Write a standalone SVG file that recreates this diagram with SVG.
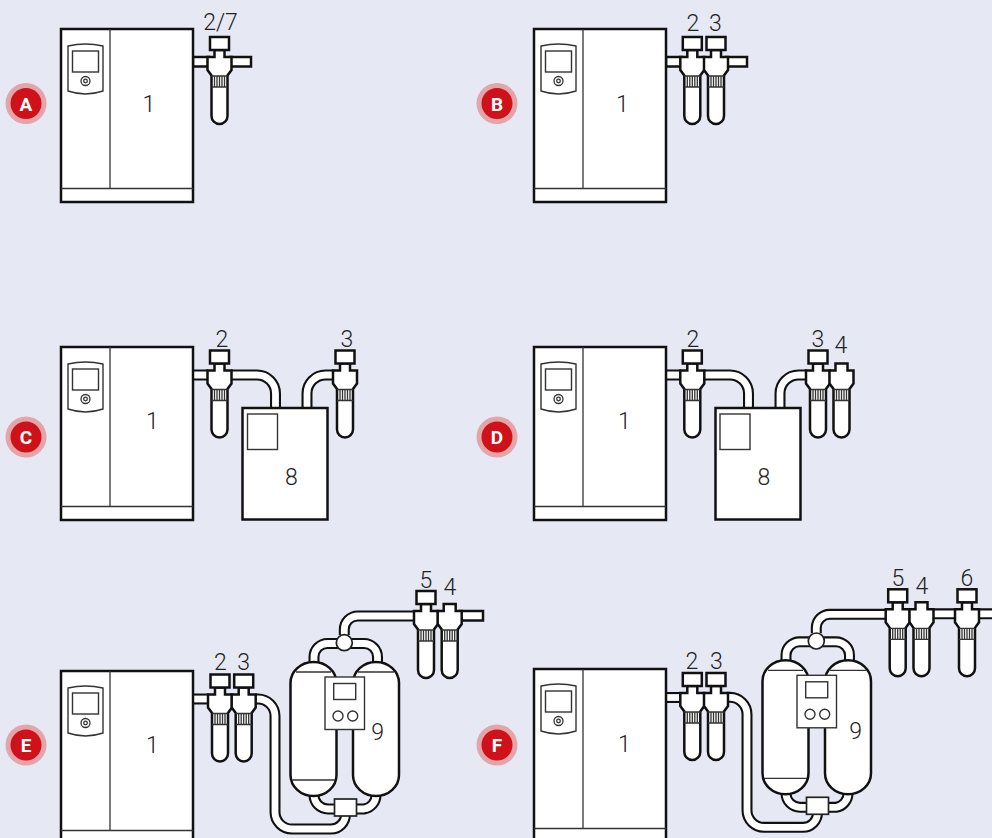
<svg xmlns="http://www.w3.org/2000/svg" width="992" height="838" viewBox="0 0 992 838">
<style>
.k{fill:#fff;stroke:#111;stroke-width:2.5}
.k2{fill:#fff;stroke:#222;stroke-width:1.7}
.t{fill:none;stroke:#333;stroke-width:1.3}
.w{fill:#fff;stroke:#333;stroke-width:1.4}
.po{fill:none;stroke:#111;stroke-width:11}
.pi{fill:none;stroke:#fff;stroke-width:6.800}
.l{font-family:Roboto,"Liberation Sans",sans-serif;font-weight:300;font-size:23px;fill:#222;text-anchor:middle;dominant-baseline:central}
.bo{fill:#e3a4aa}
.bi{fill:#cf111a}
.bt{font-family:Roboto,"Liberation Sans",sans-serif;font-weight:700;font-size:19px;fill:#fff;text-anchor:middle;dominant-baseline:central}
</style>
<defs>
<g id="cm">
<rect class="k" x="61" y="0" width="132" height="173"/>
<path class="t" d="M110,0V159M61,159.500H193"/>
<path class="w" d="M68,17Q85.500,13 103,17V62Q85.500,68 68,62Z"/>
<rect class="w" x="72.500" y="22" width="26" height="21"/>
<circle class="t" cx="85.500" cy="52" r="4.500"/><circle class="t" cx="85.500" cy="52" r="1.800"/>
</g>
<g id="body">
<path class="k" d="M-5,13V20H-12V33L-8,38.500V79A8,8 0 0 0 8,79V38.500L12,33V20H5V13Z"/>
<path class="t" d="M-8,39H8M-8,50H8M-5,39V50M-2.500,39V50M0,39V50M2.500,39V50M5,39V50"/>
</g>
<g id="f"><use href="#body"/><rect class="k" x="-9.500" y="0" width="19" height="13"/></g>
<g id="f4">
<path class="k" d="M-6,13V20H-12V33L-8,38.500V79A8,8 0 0 0 8,79V38.500L12,33V20H6V13Z"/>
<path class="t" d="M-8,39H8M-8,50H8M-5,39V50M-2.500,39V50M0,39V50M2.500,39V50M5,39V50"/>
</g>
<g id="dryer">
<rect class="k" x="290.500" y="662" width="46" height="134" rx="23" ry="21"/>
<rect class="k" x="353" y="662" width="46" height="134" rx="23" ry="21"/>
<path class="t" d="M296,672H331M358,672H394M292,780H335"/>
<rect class="w" x="325" y="677" width="39.500" height="52.500"/>
<rect class="w" x="333.700" y="683.500" width="22" height="16"/>
<circle class="w" cx="338" cy="716" r="5"/><circle class="w" cx="352.700" cy="716" r="5"/>
<rect class="k2" x="334.500" y="799" width="22" height="17"/>
<circle class="k2" cx="344.300" cy="642.700" r="8"/>
</g>
<path id="pd" d="M314,665V657A13.500,13.500 0 0 1 327.500,643.500H364A13.500,13.500 0 0 1 377.500,657V665M344.300,635V629.500A13.500,13.500 0 0 1 357.800,616H415M314,795A14,14 0 0 0 328,809H364A14,14 0 0 0 376,795M255,699H258A17,17 0 0 1 275,716V812A17,17 0 0 0 292,829H331A14.500,14.500 0 0 0 345.500,814.500"/>
</defs>
<rect width="992" height="838" fill="#e6e9f4"/>
<g id="connectors">
<rect class="k" x="193" y="57" width="16" height="9.500"/><rect class="k" x="230" y="57" width="21" height="9.500"/>
<rect class="k" x="666" y="57" width="16" height="9.500"/><rect class="k" x="726" y="57" width="21" height="9.500"/>
<path class="po" d="M193,375H208M231,375H257A18.500,18.500 0 0 1 275.500,393.500V408M307,408V393.500A18.500,18.500 0 0 1 325.500,375H334"/>
<path class="pi" d="M193,375H208M231,375H257A18.500,18.500 0 0 1 275.500,393.500V408M307,408V393.500A18.500,18.500 0 0 1 325.500,375H334"/>
<path class="po" d="M666,375H681M704,375H730A18.500,18.500 0 0 1 748.500,393.500V408M780,408V393.500A18.500,18.500 0 0 1 798.500,375H807"/>
<path class="pi" d="M666,375H681M704,375H730A18.500,18.500 0 0 1 748.500,393.500V408M780,408V393.500A18.500,18.500 0 0 1 798.500,375H807"/>
<path class="po" d="M194,699H209"/><path class="pi" d="M194,699H209"/>
<path class="po" d="M666,697.500H681"/><path class="pi" d="M666,697.500H681"/>
<g id="pipes-e">
<use href="#pd" class="po"/><use href="#pd" class="pi"/>
<rect class="k" x="460" y="611" width="23" height="9.500"/>
</g>
<g id="pipes-f" transform="translate(472,-1.700)">
<use href="#pd" class="po"/><use href="#pd" class="pi"/>
</g>
<path class="po" d="M934,613.800H956M979,613.800H992"/><path class="pi" d="M934,613.800H956M979,613.800H992"/>
</g>
<g id="node-a">
<use href="#cm" y="29"/><text class="l" x="149" y="104">1</text>
<use href="#f" x="219.500" y="37"/><text class="l" x="220.500" y="22">2/7</text>
<circle class="bo" cx="26" cy="103.500" r="20.500"/><circle class="bi" cx="26" cy="103.500" r="15.500"/><text class="bt" x="26" y="104">A</text>
</g>
<g id="node-b">
<use href="#cm" x="473" y="29"/><text class="l" x="622.500" y="104">1</text>
<use href="#f" x="692.300" y="37"/><use href="#f" x="716" y="37"/>
<text class="l" x="693" y="23">2</text><text class="l" x="715.500" y="23">3</text>
<circle class="bo" cx="497" cy="103.500" r="20.500"/><circle class="bi" cx="497" cy="103.500" r="15.500"/><text class="bt" x="497" y="104">B</text>
</g>
<g id="node-c">
<use href="#cm" y="347"/><text class="l" x="152.500" y="421">1</text>
<use href="#f" x="219.500" y="350.500"/><use href="#f" x="345" y="350.500"/>
<text class="l" x="222" y="339">2</text><text class="l" x="347" y="339">3</text>
<rect class="k" x="242.500" y="408" width="85" height="111.500"/><rect class="w" x="247.500" y="414" width="30" height="35.500"/>
<text class="l" x="291.500" y="477.500">8</text>
<circle class="bo" cx="26" cy="437" r="20.500"/><circle class="bi" cx="26" cy="437" r="15.500"/><text class="bt" x="26" y="437.500">C</text>
</g>
<g id="node-d">
<use href="#cm" x="473" y="347"/><text class="l" x="624.500" y="421">1</text>
<use href="#f" x="692.300" y="350.500"/><use href="#f" x="818" y="350.500"/><use href="#f4" x="841.500" y="350.500"/>
<text class="l" x="693" y="339">2</text><text class="l" x="818" y="339">3</text><text class="l" x="841" y="345">4</text>
<rect class="k" x="715.500" y="408" width="85" height="111.500"/><rect class="w" x="720" y="414" width="30" height="35.500"/>
<text class="l" x="764" y="477.500">8</text>
<circle class="bo" cx="497" cy="437" r="20.500"/><circle class="bi" cx="497" cy="437" r="15.500"/><text class="bt" x="497" y="437.500">D</text>
</g>
<g id="node-e">
<use href="#cm" y="671"/><text class="l" x="152.500" y="745">1</text>
<use href="#f" x="220" y="674.500"/><use href="#f" x="243.700" y="674.500"/>
<text class="l" x="220.500" y="662">2</text><text class="l" x="243.700" y="662">3</text>
<use href="#dryer"/><text class="l" x="377.700" y="732.500">9</text>
<use href="#f" x="426" y="591"/><use href="#f4" x="449.700" y="591"/>
<text class="l" x="426" y="580">5</text><text class="l" x="450" y="587">4</text>
<circle class="bo" cx="26" cy="745" r="20.500"/><circle class="bi" cx="26" cy="745" r="15.500"/><text class="bt" x="26" y="745.500">E</text>
</g>
<g id="node-f">
<use href="#cm" x="473" y="669"/><text class="l" x="624.500" y="744">1</text>
<use href="#f" x="692.300" y="673"/><use href="#f" x="716" y="673"/>
<text class="l" x="692" y="661.500">2</text><text class="l" x="716.500" y="661.500">3</text>
<use href="#dryer" x="472" y="-1.700"/><text class="l" x="855.700" y="731.500">9</text>
<use href="#f" x="897.700" y="589.300"/><use href="#f4" x="921.500" y="589.300"/><use href="#f" x="967" y="589.300"/>
<text class="l" x="898" y="578.500">5</text><text class="l" x="922" y="586">4</text><text class="l" x="967" y="578.500">6</text>
<circle class="bo" cx="497" cy="745" r="20.500"/><circle class="bi" cx="497" cy="745" r="15.500"/><text class="bt" x="497" y="745.500">F</text>
</g>
</svg>
